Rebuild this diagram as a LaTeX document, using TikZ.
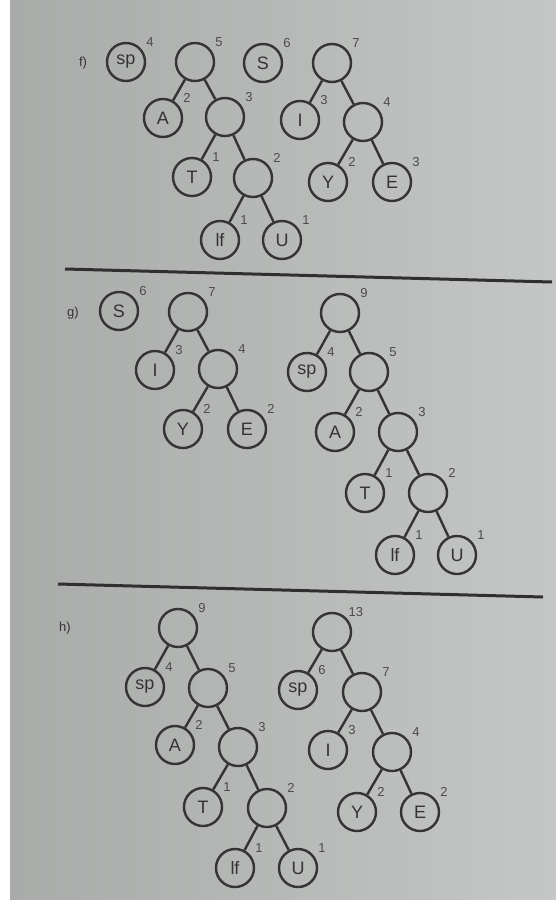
\documentclass[tikz,border=0pt]{standalone}
\usepackage{fontspec}
\setmainfont{Liberation Sans}
\definecolor{ink}{HTML}{333433}
\definecolor{numc}{HTML}{4A4B4A}
\definecolor{bgL}{HTML}{A9ABA9}
\definecolor{bgR}{HTML}{C4C7C5}
\newcommand\hnode[4]{\node[nd,label={[num]40:#4}] (#1) at (#2) {#3};}
\begin{document}
\begin{tikzpicture}[x=1pt,y=-1pt,
  nd/.style={circle,draw=ink,line width=2.4pt,minimum size=38pt,inner sep=0pt,
    font=\fontsize{18}{18}\selectfont,text=ink},
  num/.style={font=\fontsize{13}{13}\selectfont,text=numc,inner sep=0pt,anchor=center},
  label distance=11pt,
  edge/.style={draw=ink,line width=2.4pt},
  rule/.style={draw=ink!90!black,line width=3pt},
  part/.style={font=\fontsize{13}{13}\selectfont,text=ink}]
\useasboundingbox (0,0) rectangle (556,900);
\fill[white] (0,0) rectangle (556,900);
\shade[left color=bgL,right color=bgR] (10,0) rectangle (556,900);

% ---------- f)
\node[part] (lf) at (83,63) {f)};
\hnode{fsp}{126,62}{sp}{4}
\hnode{f5}{195,62}{}{5}
\hnode{fA}{163,118}{A}{2}
\hnode{f3}{225,117}{}{3}
\hnode{fT}{192,177}{T}{1}
\hnode{f2}{253,178}{}{2}
\hnode{flf}{220,240}{lf}{1}
\hnode{fU}{282,240}{U}{1}
\hnode{fS}{263,63}{S}{6}
\hnode{f7}{332,63}{}{7}
\hnode{fI}{300,120}{I}{3}
\hnode{f4}{363,122}{}{4}
\hnode{fY}{328,182}{Y}{2}
\hnode{fE}{392,182}{E}{3}
\draw[edge] (f5)--(fA) (f5)--(f3) (f3)--(fT) (f3)--(f2) (f2)--(flf) (f2)--(fU);
\draw[edge] (f7)--(fI) (f7)--(f4) (f4)--(fY) (f4)--(fE);

\coordinate (r1a) at (65,269);
\coordinate (r1b) at (552,282);
\draw[rule] (r1a)--(r1b);

% ---------- g)
\node[part] (lg) at (73,313) {g)};
\hnode{gS}{119,311}{S}{6}
\hnode{g7}{188,312}{}{7}
\hnode{gI}{155,370}{I}{3}
\hnode{g4}{218,369}{}{4}
\hnode{gY}{183,429}{Y}{2}
\hnode{gE}{247,429}{E}{2}
\draw[edge] (g7)--(gI) (g7)--(g4) (g4)--(gY) (g4)--(gE);
\hnode{g9}{340,313}{}{9}
\hnode{gsp}{307,372}{sp}{4}
\hnode{g5}{369,372}{}{5}
\hnode{gA}{335,432}{A}{2}
\hnode{g3}{398,432}{}{3}
\hnode{gT}{365,493}{T}{1}
\hnode{g2}{428,493}{}{2}
\hnode{glf}{395,555}{lf}{1}
\hnode{gU}{457,555}{U}{1}
\draw[edge] (g9)--(gsp) (g9)--(g5) (g5)--(gA) (g5)--(g3) (g3)--(gT) (g3)--(g2) (g2)--(glf) (g2)--(gU);

\coordinate (r2a) at (58,584);
\coordinate (r2b) at (543,597);
\draw[rule] (r2a)--(r2b);

% ---------- h)
\node[part] (lh) at (65,628) {h)};
\hnode{h9}{178,628}{}{9}
\hnode{hsp}{145,687}{sp}{4}
\hnode{h5}{208,688}{}{5}
\hnode{hA}{175,745}{A}{2}
\hnode{h3}{238,747}{}{3}
\hnode{hT}{203,807}{T}{1}
\hnode{h2}{267,808}{}{2}
\hnode{hlf}{235,868}{lf}{1}
\hnode{hU}{298,868}{U}{1}
\draw[edge] (h9)--(hsp) (h9)--(h5) (h5)--(hA) (h5)--(h3) (h3)--(hT) (h3)--(h2) (h2)--(hlf) (h2)--(hU);
\hnode{h13}{332,632}{}{13}
\hnode{hsp2}{298,690}{sp}{6}
\hnode{h7}{362,692}{}{7}
\hnode{hI}{328,750}{I}{3}
\hnode{h4}{392,752}{}{4}
\hnode{hY}{357,812}{Y}{2}
\hnode{hE}{420,812}{E}{2}
\draw[edge] (h13)--(hsp2) (h13)--(h7) (h7)--(hI) (h7)--(h4) (h4)--(hY) (h4)--(hE);
\end{tikzpicture}
\end{document}
